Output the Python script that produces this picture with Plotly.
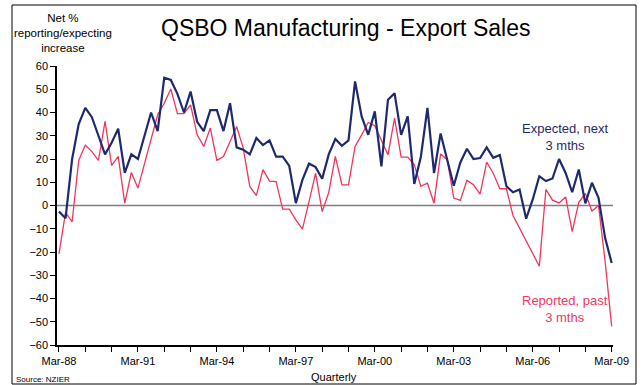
import plotly.graph_objects as go

quarters = list(range(85))
year_labels = ["Mar-88", "Mar-91", "Mar-94", "Mar-97", "Mar-00", "Mar-03", "Mar-06", "Mar-09"]

expected = [-2.6, -5.5, 20, 35, 42, 38, 30, 22, 27, 33,
            14, 22, 20, 30, 40, 32, 55, 54, 48, 40,
            49, 36, 32, 41, 41, 32, 44, 25, 24, 22,
            29, 26, 28, 21, 21, 17, 1, 11, 18, 16.5,
            11.5, 22, 28.6, 25.7, 28, 53.4, 38.3, 30.4, 40.5, 16.8,
            45.5, 48.3, 30.4, 38.3, 9.3, 21, 42, 14, 31, 19.7,
            8.5, 18.5, 24.4, 20, 20.4, 25, 20.5, 21.7, 8.3, 5.7,
            6.9, -5.7, 2.6, 12.6, 10.5, 11.6, 20, 14, 5.7, 15.5,
            0.9, 9.8, 3.3, -13.9, -24.7]

reported = [-20.8, -3, -7, 19.4, 26, 23.2, 19.4, 36.2, 17.2, 21.1,
            1, 14.2, 7.5, 18, 28.5, 39, 44, 50.1, 39.5, 39.5,
            43.3, 30.4, 25.4, 33.3, 19.4, 21.1, 27.5, 34, 24.7, 8.2,
            4.3, 15.4, 10.5, 10.3, -1.6, -1.6, -6.2, -10.2, 1.7, 13.9,
            -2.6, 5.6, 21.1, 8.9, 8.9, 25.4, 30.4, 35.7, 34.3, 28.3,
            21.8, 37.6, 20.8, 20.8, 17.5, 8.2, 9.6, 1, 22.2, 19.7,
            3.2, 2.2, 10.8, 8.9, 4.9, 18.7, 13.9, 7.2, 7.2, -4.3,
            -9.8, -15.2, -20.7, -26.1, 6.9, 2.3, 1.1, 3.7, -11.2, 1.4,
            5.2, -2.4, 0, -24, -52]

BLUE = "#1f2a6e"
RED = "#f0365c"
FONT = "Liberation Sans, Arial, sans-serif"

W, H = 642, 385
L, R, T, B = 57, 29, 66, 40
PW = W - L - R
PH = H - T - B


def px(x):
    return (x - L) / PW


def py(y):
    return (H - B - y) / PH


def label(text, x, y, size, color="black", xanchor="center"):
    return dict(text=text, x=px(x), y=py(y), xref="paper", yref="paper",
                showarrow=False, align="center", xanchor=xanchor,
                yanchor="middle", font=dict(size=size, color=color))


fig = go.Figure()
fig.add_trace(go.Scatter(x=quarters, y=reported, mode="lines",
                         line=dict(color=RED, width=1.3), showlegend=False))
fig.add_trace(go.Scatter(x=quarters, y=expected, mode="lines",
                         line=dict(color=BLUE, width=2.2), showlegend=False))

tickvals = list(range(0, 85, 4))
ticktext = [year_labels[i // 12] if i % 12 == 0 else "" for i in tickvals]

fig.update_layout(
    width=W, height=H,
    margin=dict(l=L, r=R, t=T, b=B),
    paper_bgcolor="white", plot_bgcolor="white",
    font=dict(family=FONT, size=11, color="black"),
    xaxis=dict(range=[-0.3, 84.2], tickvals=tickvals, ticktext=ticktext,
               showgrid=False, zeroline=False, showline=True, linecolor="black",
               linewidth=1.5, ticks="outside", ticklen=5, tickcolor="black",
               tickwidth=1, tickfont=dict(size=11)),
    yaxis=dict(range=[-60, 60], tickvals=list(range(-60, 61, 10)),
               showgrid=False, zeroline=False, showline=True, linecolor="black",
               linewidth=1.5, ticks="outside", ticklen=5, tickcolor="black",
               tickwidth=1, tickfont=dict(size=11)),
    shapes=[
        dict(type="line", xref="paper", yref="y", x0=0, x1=1, y0=0, y1=0,
             line=dict(color="#7f7f7f", width=1.5), layer="below"),
        dict(type="rect", xref="paper", yref="paper",
             x0=px(12), x1=px(636), y0=py(384), y1=py(5),
             line=dict(color="black", width=1), fillcolor="rgba(0,0,0,0)"),
    ],
    annotations=[
        label("QSBO Manufacturing - Export Sales", 345, 28, 23),
        label("Net %<br>reporting/expecting<br>increase", 63, 33, 11.5),
        label("Expected, next<br>3 mths", 565, 137, 13, BLUE),
        label("Reported, past<br>3 mths", 565, 309, 13, RED),
        label("Quarterly", 334, 377, 11),
        label("Source: NZIER", 14, 379, 8, xanchor="left"),
    ],
)

fig.write_html("out.html")
